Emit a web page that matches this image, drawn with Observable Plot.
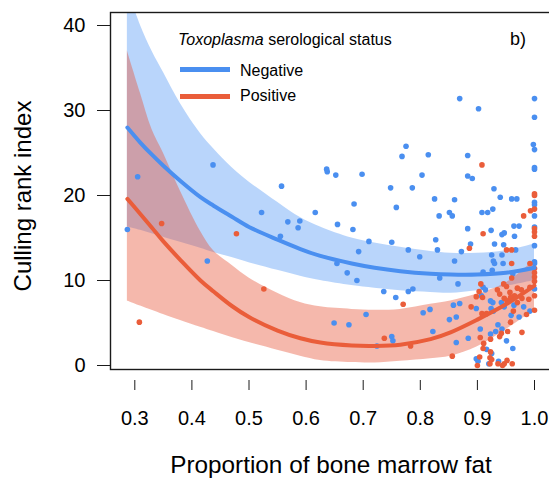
<!DOCTYPE html>
<html>
<head>
<meta charset="utf-8">
<script src="https://cdn.jsdelivr.net/npm/d3@7"></script>
<script src="https://cdn.jsdelivr.net/npm/@observablehq/plot@0.6"></script>
<style>
  html, body { margin: 0; padding: 0; background: #fff; overflow: hidden; }
  #wrap { position: relative; width: 549px; height: 479px; overflow: hidden; font-family: "Liberation Sans", Arial, Helvetica, sans-serif; color: #000; }
  #chart { position: absolute; left: 0; top: 0; width: 560px; }
  #chart svg { max-width: none !important; }
  .t { position: absolute; line-height: 1; white-space: nowrap; }
  .sw { position: absolute; height: 5px; }
</style>
</head>
<body>
<div id="wrap"><div id="chart"></div></div>
<script>
// ---------- data ----------
const statusLabels = ["Negative", "Positive"];
const legendTitleItalic = "Toxoplasma";
const legendTitleRest = " serological status";
const panelLabel = "b)";
const xTitle = "Proportion of bone marrow fat";
const yTitle = "Culling rank index";
const xTicks = [0.3, 0.4, 0.5, 0.6, 0.7, 0.8, 0.9, 1.0];
const yTicks = [0, 10, 20, 30, 40];

// Negative (blue) observations
const negX = [0.305,0.437,0.287,0.427,0.557,0.522,0.568,0.589,0.586,0.555,0.616,
  0.775,0.768,0.814,0.636,0.637,0.652,0.698,0.803,0.748,0.786,0.825,0.684,0.758,0.833,0.851,0.655,0.682,0.827,0.71,0.75,0.83,0.692,0.779,0.799,0.654,0.672,0.689,0.834,0.736,0.779,0.787,0.757,0.705,0.805,0.817,0.649,0.675,0.822,0.75,0.752,0.724,0.851,
  0.869,0.902,1.0,1.0,0.998,1.0,0.883,
  1.0,1.0,0.883,0.891,0.929,0.94,0.96,0.969,0.86,1.0,1.0,1.0,0.856,0.908,0.918,0.927,0.964,0.973,0.883,0.924,1.0,
  0.943,0.947,0.965,1.0,0.888,0.872,0.93,0.946,0.967,0.925,0.943,0.86,0.928,0.93,0.945,1.0,1.0,0.962,0.926,0.91,0.866,0.91,0.914,0.907,1.0,
  0.858,0.869,0.923,0.927,0.942,0.964,0.981,0.992,0.863,0.898,0.924,0.928,0.947,0.959,0.973,0.936,0.943,0.905,0.932,0.923,0.884,0.951,0.863,0.916,0.962,0.925,0.898,0.901,0.92,0.937];
const negY = [22.2,23.6,16.0,12.3,21.1,18.0,16.9,17.0,16.2,15.2,18.0,
  25.8,24.6,24.8,23.1,22.8,22.4,22.5,22.4,20.9,20.9,19.6,19.0,18.6,17.6,18.0,16.6,16.0,14.8,14.6,14.5,13.6,13.4,13.6,12.8,12.0,10.9,10.0,10.3,8.7,8.7,9.0,8.0,6.0,6.2,6.6,5.0,4.8,4.0,3.4,2.9,2.3,5.4,
  31.4,30.2,31.4,29.2,26.0,25.4,24.7,
  23.3,23.1,22.3,22.0,20.8,19.8,19.6,19.6,19.5,19.2,18.9,17.6,17.6,18.0,18.0,18.4,16.4,16.4,16.1,15.9,16.3,
  15.4,15.6,15.2,14.1,14.3,13.4,14.3,14.2,13.6,13.0,13.0,12.3,12.3,12.0,12.0,12.2,12.0,10.8,11.2,11.0,9.6,9.2,8.9,8.2,9.0,
  7.1,7.3,7.6,7.4,7.4,7.1,6.9,6.4,5.7,6.7,6.7,6.4,6.9,5.9,5.7,4.8,4.3,4.3,4.0,3.7,3.2,2.9,2.7,1.9,2.0,1.4,0.8,0.5,0.2,0.5];

// Positive (red) observations
const posX = [0.347,0.308,0.478,0.526,0.77,0.737,0.783,
  0.908,1.0,1.0,1.0,0.993,0.981,1.0,
  0.91,1.0,1.0,0.886,0.951,0.96,0.96,0.992,1.0,1.0,1.0,1.0,0.906,0.946,0.96,0.951,0.97,0.992,0.935,0.903,0.939,0.957,0.965,0.977,0.898,0.978,1.0,
  0.909,0.947,0.952,0.958,0.97,0.99,1.0,0.986,0.889,0.908,0.916,0.963,0.958,0.953,0.978,0.942,0.939,0.905,0.923,0.911,0.91,0.923,0.856,0.904,0.922,0.925,0.9,0.922,0.936,0.944,0.947,0.961,0.952];
const posY = [16.7,5.1,15.5,9.0,7.2,3.2,2.3,
  23.6,20.2,20.0,18.4,18.2,17.6,16.1,
  15.5,15.7,15.2,13.8,13.6,13.6,12.0,12.0,11.4,10.9,10.4,9.9,9.6,9.6,10.3,9.3,9.1,9.2,8.9,8.7,8.4,8.6,8.2,8.9,8.1,7.9,8.2,
  8.0,7.9,7.6,8.0,7.4,7.8,6.5,6.0,6.9,6.1,6.1,6.4,5.1,4.0,3.9,3.8,3.4,3.3,3.1,2.6,2.0,1.6,1.1,1.0,0.9,0.7,0.0,0.2,0.2,0.0,0.2,0.2,0.6];

// fitted curves and confidence bands (read at these x positions)
const fitX   = [0.287,0.31,0.33,0.35,0.38,0.415,0.438,0.47,0.5,0.55,0.59,0.625,0.68,0.72,0.765,0.818,0.853,0.9,0.95,1.0];
const negFit = [28.0,26.2,24.8,23.5,21.7,19.8,18.8,17.5,16.3,14.8,13.7,12.9,12.0,11.5,11.1,10.8,10.7,10.7,10.9,11.5];
const negHi  = [44.5,40.0,37.0,34.5,30.8,27.3,25.5,23.3,21.6,19.2,17.4,16.3,15.0,14.4,13.9,13.4,13.2,13.2,13.5,14.3];
const negLo  = [16.3,15.9,15.5,15.1,14.5,13.8,13.3,12.7,12.1,11.2,10.5,10.0,9.4,9.1,8.8,8.6,8.5,8.8,9.3,10.0];
const posFit = [19.6,17.8,16.2,14.6,12.4,10.0,8.7,7.0,5.7,4.1,3.2,2.7,2.35,2.3,2.45,3.1,3.9,5.4,7.2,9.4];
const posHi  = [37.0,32.0,27.8,25.0,20.5,15.8,13.5,11.8,10.3,8.5,7.4,6.9,6.6,6.5,6.6,7.2,7.6,8.4,9.7,12.4];
const posLo  = [7.6,7.0,6.5,6.0,5.3,4.5,4.0,3.3,2.7,1.8,1.1,0.6,0.35,0.3,0.5,0.8,1.1,2.2,4.2,6.5];

// ---------- styling ----------
const blue = "#4a8ff0", red = "#ea5d3a";
const blueBand = "#5096f5", redBand = "#e8553a";
const font = '"Liberation Sans", Arial, Helvetica, sans-serif';

const curveRows = fitX.map((x, i) => ({x, negFit: negFit[i], negHi: negHi[i], negLo: negLo[i], posFit: posFit[i], posHi: posHi[i], posLo: posLo[i]}));
const pts = [
  ...negX.map((x, i) => ({x, y: negY[i], status: statusLabels[0]})),
  ...posX.map((x, i) => ({x, y: posY[i], status: statusLabels[1]}))
];

const W = 560, H = 479, mL = 110, mR = 0, mT = 12, mB = 110;
// x: 0.3 -> 134.3px, 1.0 -> 534px ; y: 0 -> 365px, 40 -> 25px
const xPerPx = 0.1 / 57.1, yPerPx = 10 / 85;
const xDomain = [0.3 - (134.3 - mL) * xPerPx, 0.3 + (W - mR - 134.3) * xPerPx];
const yDomain = [0 - (H - mB - 365) * yPerPx, 0 + (365 - mT) * yPerPx];

const chart = Plot.plot({
  width: W, height: H,
  marginLeft: mL, marginRight: mR, marginTop: mT, marginBottom: mB,
  x: {domain: xDomain},
  y: {domain: yDomain},
  color: {domain: statusLabels, range: [blue, red]},
  style: {fontFamily: font, background: "white", color: "#000", maxWidth: "none"},
  marks: [
    Plot.areaY(curveRows, {x: "x", y1: "negLo", y2: "negHi", fill: blueBand, fillOpacity: 0.4, curve: "catmull-rom", clip: true}),
    Plot.areaY(curveRows, {x: "x", y1: "posLo", y2: "posHi", fill: redBand, fillOpacity: 0.42, curve: "catmull-rom", clip: true}),
    Plot.dot(pts, {x: "x", y: "y", r: 2.8, fill: "status"}),
    Plot.line(curveRows, {x: "x", y: "negFit", stroke: blue, strokeWidth: 4, curve: "catmull-rom", clip: true}),
    Plot.line(curveRows, {x: "x", y: "posFit", stroke: red, strokeWidth: 4, curve: "catmull-rom", clip: true}),
    Plot.frame({stroke: "#1a1a1a", strokeWidth: 1.4}),
    Plot.axisX({ticks: xTicks, tickFormat: d3.format(".1f"), tickSize: 10, tickPadding: 20, dy: 11, fontSize: 20, label: null, stroke: "#1a1a1a"}),
    Plot.axisY({ticks: yTicks, tickSize: 13, tickPadding: 12, fontSize: 20, label: null, stroke: "#1a1a1a"})
  ]
});
chart.style.maxWidth = "none";
chart.style.width = W + "px";
const wrap = document.getElementById("wrap");
document.getElementById("chart").appendChild(chart);

function addText(txt, left, top, size, extra) {
  const d = document.createElement("div");
  d.className = "t";
  d.style.left = left + "px";
  d.style.top = top + "px";
  d.style.fontSize = size + "px";
  if (extra) Object.assign(d.style, extra);
  if (typeof txt === "string") d.textContent = txt; else d.appendChild(txt);
  wrap.appendChild(d);
  return d;
}
function addSwatch(color, left, top, width) {
  const s = document.createElement("div");
  s.className = "sw";
  s.style.left = left + "px"; s.style.top = top + "px"; s.style.width = width + "px";
  s.style.background = color;
  wrap.appendChild(s);
}

// legend
const title = document.createElement("span");
const it = document.createElement("i"); it.textContent = legendTitleItalic;
title.appendChild(it); title.appendChild(document.createTextNode(legendTitleRest));
addText(title, 178, 32, 16);
addSwatch(blue, 180, 67, 50);
addSwatch(red, 180, 94, 50);
addText(statusLabels[0], 240, 62.5, 16);
addText(statusLabels[1], 240, 88.2, 16);
addText(panelLabel, 510, 30, 18);

// axis titles
addText(xTitle, 331, 452.7, 24.3, {transform: "translateX(-50%)"});
addText(yTitle, 23, 196, 24, {transform: "translate(-50%, -50%) rotate(-90deg)"});
</script>
</body>
</html>
